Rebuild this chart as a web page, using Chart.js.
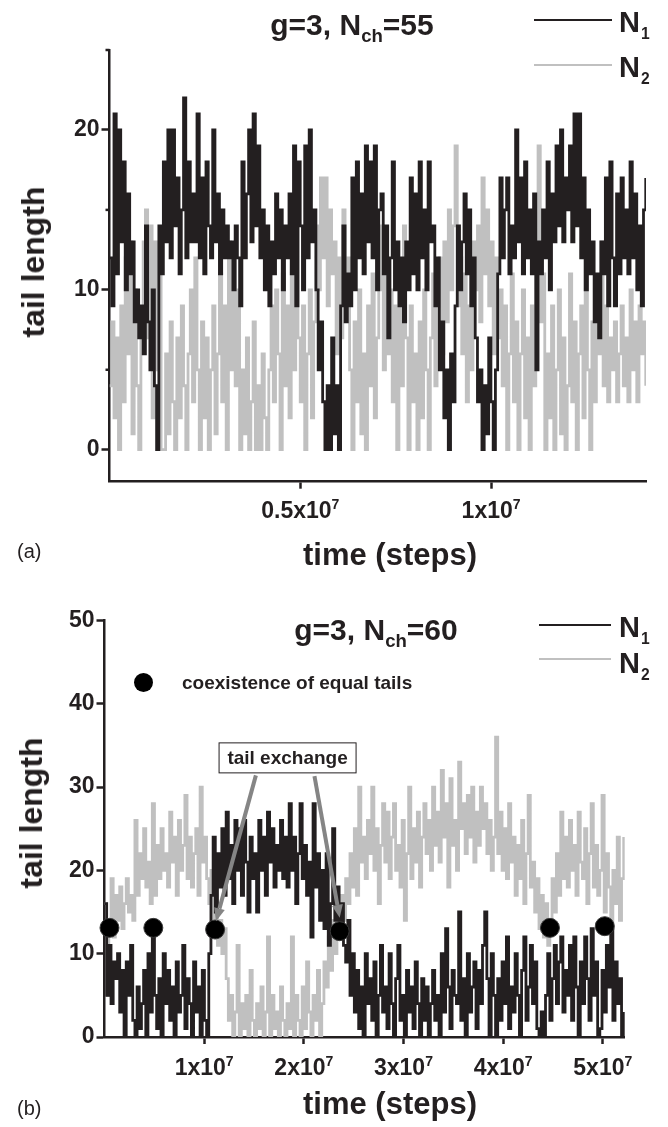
<!DOCTYPE html>
<html>
<head>
<meta charset="utf-8">
<script src="https://cdn.jsdelivr.net/npm/chart.js@4.4.1/dist/chart.umd.min.js"></script>
<style>
  html, body { margin: 0; padding: 0; background: #fff; }
  body {
    width: 668px; height: 1127px; position: relative; overflow: hidden;
    font-family: "Liberation Sans", Arial, Helvetica, sans-serif; color: #231f20;
  }
  canvas { position: absolute; left: 0; }
  #chartA { top: 0; }
  #chartB { top: 560px; }
  .lbl { position: absolute; white-space: nowrap; font-weight: bold; line-height: 1; }
  .title { font-size: 30px; transform: translateX(-50%); }
  .title .sub { font-size: 0.62em; position: relative; top: 0.42em; }
  .key { font-size: 29px; }
  .key .sub { font-size: 0.54em; position: relative; top: 0.45em; margin-left: 1px; }
  .keyline { position: absolute; height: 2px; }
  .ytitle { font-size: 32px; transform: translate(-50%, -50%) rotate(-90deg); }
  .xtitle { font-size: 31px; transform: translateX(-50%); }
  .panel { position: absolute; font-size: 20px; line-height: 1; }
  .note { font-size: 19px; }
  .dot { position: absolute; width: 19px; height: 19px; border-radius: 50%; background: #000; }
</style>
</head>
<body>
<canvas id="chartA" width="668" height="560"></canvas>
<canvas id="chartB" width="668" height="567"></canvas>

<!-- panel (a) texts -->
<div class="lbl title" style="left:352px; top:9.6px">g=3, N<span class="sub">ch</span>=55</div>
<div class="keyline" style="left:534px; top:19px; width:78px; background:#231f20"></div>
<div class="keyline" style="left:534px; top:64px; width:78px; background:#c0c0c0"></div>
<div class="lbl key" style="left:619px; top:7.5px">N<span class="sub">1</span></div>
<div class="lbl key" style="left:619px; top:52.5px">N<span class="sub">2</span></div>
<div class="lbl ytitle" style="left:33px; top:262px">tail length</div>
<div class="lbl xtitle" style="left:390px; top:539px">time (steps)</div>
<div class="panel" style="left:17px; top:541px">(a)</div>

<!-- panel (b) texts -->
<div class="lbl title" style="left:376px; top:614.6px">g=3, N<span class="sub">ch</span>=60</div>
<div class="keyline" style="left:539px; top:624px; width:72px; background:#231f20"></div>
<div class="keyline" style="left:539px; top:658px; width:72px; background:#c0c0c0"></div>
<div class="lbl key" style="left:619px; top:612.5px">N<span class="sub">1</span></div>
<div class="lbl key" style="left:619px; top:648.5px">N<span class="sub">2</span></div>
<div class="dot" style="left:134px; top:673px"></div>
<div class="lbl note" style="left:182px; top:673px">coexistence of equal tails</div>
<div class="lbl ytitle" style="left:31px; top:813px">tail length</div>
<div class="lbl xtitle" style="left:390px; top:1088px">time (steps)</div>
<div class="panel" style="left:17px; top:1098px">(b)</div>

<script>
// ---------- data ----------
const sampleStepA = 58800;   // time steps between stored samples, run (a)
const sampleStepB = 218000;  // time steps between stored samples, run (b)

// (a) g=3, Nch=55
const n1A = [
  12, 9, 21, 11, 20, 13, 18, 10, 16, 11, 13, 8, 10, 7, 9, 6, 14, 8, 5, 10,
  4, 0, 14, 11, 18, 13, 20, 12, 20, 14, 17, 11, 15, 22, 12, 18, 13, 16, 13, 21,
  12, 17, 11, 18, 14, 12, 20, 13, 16, 11, 15, 12, 14, 12, 13, 10, 14, 12, 9, 18,
  12, 16, 20, 13, 21, 14, 19, 12, 15, 10, 14, 9, 13, 11, 16, 12, 15, 10, 14, 12,
  16, 11, 19, 9, 18, 14, 10, 19, 12, 20, 13, 15, 10, 5, 8, 3, 0, 4, 0, 7,
  1, 4, 0, 9, 14, 8, 11, 9, 17, 10, 18, 12, 16, 11, 19, 13, 18, 12, 19, 10,
  15, 16, 11, 14, 7, 12, 18, 10, 13, 9, 12, 8, 13, 10, 17, 11, 16, 10, 18, 12,
  15, 10, 18, 13, 14, 9, 12, 5, 8, 2, 5, 0, 6, 3, 9, 14, 10, 13, 16, 11,
  15, 9, 12, 7, 3, 5, 0, 4, 1, 7, 3, 0, 5, 11, 17, 12, 15, 17, 11, 14,
  12, 20, 13, 17, 11, 18, 12, 15, 11, 16, 5, 13, 11, 15, 12, 18, 10, 16, 13, 19,
  14, 20, 13, 17, 15, 19, 13, 21, 14, 21, 12, 17, 10, 15, 11, 13, 8, 11, 7, 13,
  11, 17, 9, 18, 12, 9, 16, 11, 17, 12, 15, 11, 18, 12, 16, 10, 14, 9, 15, 17,
];
const n2A = [
  4, 8, 2, 7, 0, 9, 3, 12, 6, 13, 1, 10, 4, 0, 8, 13, 15, 7, 14, 2,
  13, 5, 11, 0, 0, 6, 1, 8, 3, 0, 7, 2, 9, 4, 0, 6, 10, 3, 12, 5,
  0, 8, 2, 7, 0, 5, 9, 1, 6, 11, 3, 9, 0, 13, 5, 12, 4, 10, 0, 5,
  1, 7, 0, 3, 8, 0, 4, 0, 6, 2, 0, 5, 9, 3, 10, 6, 0, 11, 4, 9,
  2, 12, 5, 14, 7, 3, 9, 0, 6, 10, 2, 8, 14, 10, 17, 12, 17, 9, 15, 11,
  13, 6, 12, 7, 15, 9, 12, 5, 0, 8, 3, 10, 1, 6, 0, 9, 4, 11, 2, 7,
  10, 14, 5, 12, 6, 10, 3, 9, 0, 11, 4, 14, 7, 0, 9, 3, 6, 0, 8, 2,
  10, 5, 0, 7, 11, 4, 9, 12, 6, 13, 8, 15, 10, 14, 19, 9, 12, 6, 11, 3,
  9, 5, 13, 10, 14, 8, 17, 11, 15, 9, 13, 6, 12, 7, 10, 4, 9, 0, 6, 11,
  3, 8, 0, 6, 10, 2, 7, 0, 9, 4, 12, 19, 8, 11, 0, 6, 2, 9, 0, 5,
  10, 1, 7, 0, 4, 11, 3, 8, 0, 6, 9, 2, 12, 5, 0, 8, 3, 10, 6, 13,
  4, 9, 3, 7, 5, 8, 3, 6, 9, 4, 7, 3, 10, 5, 8, 3, 9, 6, 8, 4,
];

// (b) g=3, Nch=60
const n1B = [
  16, 5, 11, 4, 9, 7, 10, 3, 8, 0, 9, 5, 11, 2, 0, 6, 1, 4, 8, 0,
  10, 3, 12, 5, 1, 7, 0, 10, 4, 8, 2, 6, 0, 9, 3, 5, 11, 1, 7, 4,
  0, 9, 3, 6, 0, 8, 2, 0, 10, 17, 24, 15, 22, 18, 25, 17, 27, 19, 23, 16,
  26, 20, 25, 17, 26, 21, 15, 24, 19, 22, 15, 26, 20, 24, 17, 27, 21, 25, 18, 23,
  20, 26, 19, 24, 18, 28, 20, 24, 16, 22, 28, 19, 23, 17, 21, 12, 28, 18, 22, 14,
  20, 13, 22, 11, 16, 25, 14, 18, 12, 16, 11, 9, 14, 5, 10, 3, 8, 1, 6, 0,
  10, 4, 7, 2, 9, 0, 5, 11, 3, 6, 1, 10, 4, 0, 7, 11, 2, 5, 0, 8,
  3, 6, 1, 9, 4, 0, 7, 2, 6, 0, 4, 8, 2, 5, 0, 10, 3, 13, 6, 1,
  8, 5, 4, 15, 2, 7, 0, 10, 3, 6, 9, 1, 8, 4, 11, 15, 7, 0, 10, 5,
  0, 7, 2, 9, 4, 12, 1, 6, 3, 10, 5, 0, 8, 12, 2, 6, 11, 4, 9, 1,
  0, 3, 0, 5, 10, 2, 7, 11, 4, 9, 12, 3, 8, 5, 11, 2, 12, 6, 0, 9,
  4, 12, 7, 2, 13, 5, 9, 0, 1, 8, 3, 11, 6, 13, 2, 9, 4, 7, 0, 3,
];
const n2B = [
  16, 5, 14, 19, 12, 17, 14, 18, 13, 16, 19, 15, 17, 14, 26, 17, 22, 19, 25, 18,
  21, 16, 28, 17, 23, 19, 25, 20, 22, 18, 27, 21, 24, 17, 26, 20, 23, 29, 19, 24,
  18, 22, 25, 17, 30, 21, 24, 19, 16, 20, 13, 15, 11, 14, 10, 13, 7, 2, 5, 0,
  3, 11, 0, 4, 1, 5, 0, 8, 2, 0, 4, 1, 6, 0, 3, 12, 0, 5, 1, 3,
  0, 6, 2, 0, 4, 1, 12, 0, 5, 2, 0, 6, 1, 9, 3, 0, 5, 2, 8, 0,
  4, 9, 6, 12, 8, 14, 10, 15, 12, 17, 14, 19, 16, 22, 18, 25, 17, 30, 21, 24,
  19, 26, 22, 30, 20, 25, 16, 23, 28, 21, 27, 19, 24, 28, 20, 23, 18, 26, 14, 22,
  30, 19, 25, 21, 27, 18, 24, 28, 22, 26, 20, 30, 23, 27, 21, 32, 24, 28, 18, 31,
  23, 26, 20, 33, 25, 28, 22, 29, 24, 30, 21, 27, 23, 30, 25, 28, 22, 26, 20, 24,
  36, 22, 27, 20, 25, 19, 28, 21, 24, 17, 23, 19, 26, 16, 22, 29, 18, 21, 15, 19,
  13, 17, 12, 16, 11, 14, 19, 15, 22, 17, 27, 19, 24, 18, 26, 20, 23, 17, 27, 21,
  19, 25, 16, 22, 28, 18, 23, 17, 20, 29, 15, 22, 18, 13, 20, 16, 24, 14, 19, 24,
];

// moments where both tails have the same length, run (b)
const coexTimes = [0.05e7, 0.49e7, 1.11e7, 2.36e7, 4.47e7, 5.02e7];
const coexLengths = [13.1, 13.1, 12.9, 12.7, 13.1, 13.3];

// axes
const yTicksA = [0, 10, 20];
const yMinorTicksA = [5, 15, 25];
const xTicksA = [0.5e7, 1e7];
const xTickTextA = ['0.5', '1'];
const yTicksB = [0, 10, 20, 30, 40, 50];
const xTicksB = [1e7, 2e7, 3e7, 4e7, 5e7];
const xTickTextB = ['1', '2', '3', '4', '5'];
const tickExponent = '7';

// ---------- drawing ----------
const FONT = '"Liberation Sans", Arial, Helvetica, sans-serif';
const INK = '#231f20';
const GREY = '#c0c0c0';

function series(values, step) {
  return values.map((v, i) => ({ x: i * step, y: v }));
}

// "0.5x10^7" style labels under the x ticks
const sciTicks = {
  id: 'sciTicks',
  afterDraw(chart, args, opts) {
    const scale = chart.scales.x;
    const ctx = chart.ctx;
    ctx.save();
    ctx.fillStyle = INK;
    ctx.textBaseline = 'alphabetic';
    ctx.textAlign = 'left';
    scale.ticks.forEach((t, i) => {
      const px = scale.getPixelForValue(t.value);
      const base = opts.text[i] + 'x10';
      ctx.font = 'bold 23px ' + FONT;
      const w1 = ctx.measureText(base).width;
      ctx.font = 'bold 14px ' + FONT;
      const w2 = ctx.measureText(tickExponent).width;
      const x0 = px - (w1 + w2) / 2;
      const y = scale.top + opts.offset;
      ctx.font = 'bold 23px ' + FONT;
      ctx.fillText(base, x0, y);
      ctx.font = 'bold 14px ' + FONT;
      ctx.fillText(tickExponent, x0 + w1, y - 9);
    });
    ctx.restore();
  },
};

// short unlabelled ticks on the y axis
const minorTicks = {
  id: 'minorTicks',
  afterDraw(chart, args, opts) {
    if (!opts.values || !opts.values.length) return;
    const scale = chart.scales.y;
    const ctx = chart.ctx;
    ctx.save();
    ctx.strokeStyle = INK;
    ctx.lineWidth = 2.5;
    opts.values.forEach((v) => {
      const py = scale.getPixelForValue(v);
      ctx.beginPath();
      ctx.moveTo(chart.chartArea.left, py);
      ctx.lineTo(chart.chartArea.left - 4, py);
      ctx.stroke();
    });
    ctx.restore();
  },
};

// boxed "tail exchange" note with its two arrows
const exchangeNote = {
  id: 'exchangeNote',
  afterDatasetsDraw(chart, args, opts) {
    if (!opts.label) return;
    const { x, y } = chart.scales;
    const ctx = chart.ctx;
    ctx.save();
    ctx.strokeStyle = opts.arrowColor;
    ctx.fillStyle = opts.arrowColor;
    opts.arrows.forEach((a) => {
      const x1 = x.getPixelForValue(a.from[0]);
      const y1 = y.getPixelForValue(a.from[1]);
      const x2 = x.getPixelForValue(a.to[0]);
      const y2 = y.getPixelForValue(a.to[1]);
      const ang = Math.atan2(y2 - y1, x2 - x1);
      const head = 13;
      const bx = x2 - head * Math.cos(ang);
      const by = y2 - head * Math.sin(ang);
      ctx.lineWidth = 4;
      ctx.beginPath();
      ctx.moveTo(x1, y1);
      ctx.lineTo(bx, by);
      ctx.stroke();
      ctx.beginPath();
      ctx.moveTo(x2, y2);
      ctx.lineTo(bx + 5.5 * Math.sin(ang), by - 5.5 * Math.cos(ang));
      ctx.lineTo(bx - 5.5 * Math.sin(ang), by + 5.5 * Math.cos(ang));
      ctx.closePath();
      ctx.fill();
    });
    const cx = x.getPixelForValue(opts.at[0]);
    const cy = y.getPixelForValue(opts.at[1]);
    const w = opts.size[0];
    const h = opts.size[1];
    ctx.fillStyle = '#fff';
    ctx.fillRect(cx - w / 2, cy - h / 2, w, h);
    ctx.strokeStyle = INK;
    ctx.lineWidth = 1;
    ctx.strokeRect(cx - w / 2 + 0.5, cy - h / 2 + 0.5, w - 1, h - 1);
    ctx.fillStyle = INK;
    ctx.font = 'bold 19px ' + FONT;
    ctx.textAlign = 'center';
    ctx.textBaseline = 'middle';
    ctx.fillText(opts.label, cx, cy + 1);
    ctx.restore();
  },
};

function makePanel(id, p) {
  const canvas = document.getElementById(id);
  return new Chart(canvas, {
    type: 'line',
    data: { datasets: p.datasets },
    options: {
      responsive: false,
      animation: false,
      devicePixelRatio: 1,
      events: [],
      layout: {
        padding: { left: 0, top: p.area.top, right: canvas.width - p.area.right, bottom: 0 },
      },
      plugins: {
        legend: { display: false },
        tooltip: { enabled: false },
        sciTicks: { text: p.xText, offset: p.labelOffset },
        minorTicks: { values: p.yMinor },
        exchangeNote: p.note || {},
      },
      scales: {
        x: {
          type: 'linear',
          min: p.xMin,
          max: p.xMax,
          afterFit: (s) => { s.height = canvas.height - p.area.bottom; },
          afterBuildTicks: (s) => { s.ticks = p.xTicks.map((v) => ({ value: v })); },
          grid: { drawOnChartArea: false, color: INK, tickColor: INK, tickLength: 7, tickWidth: 2.5 },
          border: { color: INK, width: 2.5 },
          ticks: { callback: () => '' },
        },
        y: {
          type: 'linear',
          min: p.yMin,
          max: p.yMax,
          afterFit: (s) => { s.width = p.area.left; },
          afterBuildTicks: (s) => { s.ticks = p.yTicks.map((v) => ({ value: v })); },
          grid: { drawOnChartArea: false, color: INK, tickColor: INK, tickLength: 8, tickWidth: 2.5 },
          border: { color: INK, width: 2.5 },
          ticks: { color: INK, padding: 2, font: { family: FONT, size: 23, weight: 'bold' } },
        },
      },
    },
    plugins: [sciTicks, minorTicks, exchangeNote],
  });
}

function traces(n1, n2, step) {
  return [
    {
      label: 'N1', data: series(n1, step), order: 1,
      borderColor: INK, borderWidth: 2.8, stepped: true, pointRadius: 0, fill: false,
    },
    {
      label: 'N2', data: series(n2, step), order: 2,
      borderColor: GREY, borderWidth: 2.8, stepped: true, pointRadius: 0, fill: false,
    },
  ];
}

makePanel('chartA', {
  area: { left: 109.5, top: 50, right: 646, bottom: 481.7 },
  xMin: 0, xMax: 1.406e7, yMin: -2, yMax: 25,
  xTicks: xTicksA, xText: xTickTextA, yTicks: yTicksA, yMinor: yMinorTicksA,
  labelOffset: 36,
  datasets: traces(n1A, n2A, sampleStepA),
});

const coexData = coexTimes.map((t, i) => ({ x: t, y: coexLengths[i] }));

makePanel('chartB', {
  area: { left: 104.5, top: 60.4, right: 624.7, bottom: 477 },
  xMin: 0, xMax: 5.22e7, yMin: 0, yMax: 50,
  xTicks: xTicksB, xText: xTickTextB, yTicks: yTicksB, yMinor: [],
  labelOffset: 38,
  datasets: [
    {
      type: 'scatter', label: 'coexistence of equal tails', data: coexData, order: 0,
      pointRadius: 9.5, pointBackgroundColor: '#000', pointBorderColor: '#3a3a3a',
      pointBorderWidth: 1, showLine: false, clip: false,
    },
  ].concat(traces(n1B, n2B, sampleStepB)),
  note: {
    label: 'tail exchange',
    at: [1.837e7, 33.5],
    size: [138, 31],
    arrowColor: '#858585',
    arrows: [
      { from: [1.519e7, 31.4], to: [1.119e7, 13.9] },
      { from: [2.107e7, 31.3], to: [2.36e7, 14.3] },
    ],
  },
});
</script>
</body>
</html>
